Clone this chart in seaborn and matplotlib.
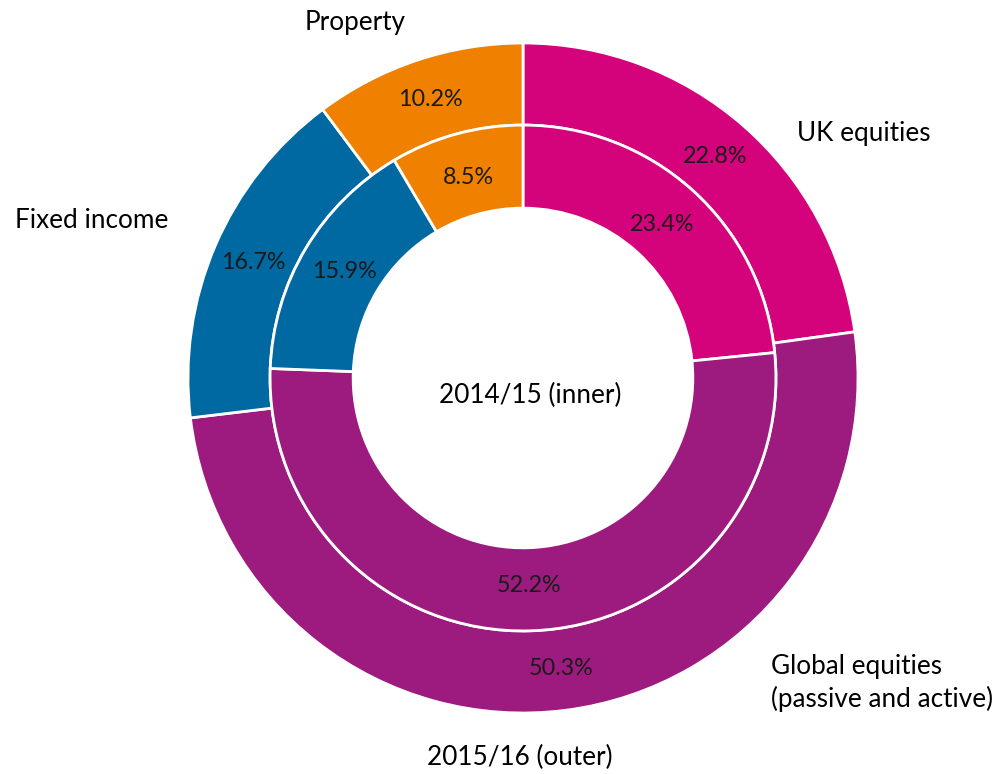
import matplotlib
matplotlib.use('Agg')
import matplotlib.pyplot as plt
import seaborn as sns

# Asset allocation (%), clockwise from 12 o'clock
categories = ['UK equities', 'Global equities\n(passive and active)', 'Fixed income', 'Property']
outer_2015_16 = [22.8, 50.3, 16.7, 10.2]
inner_2014_15 = [23.4, 52.2, 15.9, 8.5]
colors = ['#D4037B', '#9D1A7E', '#0069A2', '#F08100']

sns.set_theme(style='white')
plt.rcParams['font.family'] = ['Lato', 'DejaVu Sans']

fig = plt.figure(figsize=(10.05, 7.74), dpi=100)
ax = fig.add_axes([0, 0, 1, 1])

# pixel-ish layout: centre at (523, 378), outer radius 335 px
R = 335.0
cx, cy = 523.0, 378.0
ax.axis('off')

wp = dict(edgecolor='white', linewidth=2)
txt = dict(fontsize=16.8, color='#1a1a1a')

ax.pie(outer_2015_16, radius=1.0, colors=colors, startangle=90, counterclock=False,
       wedgeprops=dict(width=0.245, **wp), autopct='%.1f%%', pctdistance=0.875,
       textprops=txt)
ax.pie(inner_2014_15, radius=0.755, colors=colors, startangle=90, counterclock=False,
       wedgeprops=dict(width=0.248, **wp), autopct='%.1f%%', pctdistance=0.82,
       textprops=txt)

ax.set_xlim(-cx / R, (1005 - cx) / R)
ax.set_ylim(-(774 - cy) / R, cy / R)
ax.set_aspect('auto')

lab = dict(fontsize=18.8, color='black')
ax.text(0.818, 0.731, categories[0], ha='left', va='center', **lab)
ax.text(0.740, -0.91, categories[1], ha='left', va='center', linespacing=1.3, **lab)
ax.text(-1.287, 0.469, categories[2], ha='center', va='center', **lab)
ax.text(-0.50, 1.06, categories[3], ha='center', va='center', **lab)

ax.text(0.021, -0.051, '2014/15 (inner)', ha='center', va='center', **lab)
ax.text(-0.009, -1.134, '2015/16 (outer)', ha='center', va='center', **lab)

fig.savefig('out.png', dpi=100)
